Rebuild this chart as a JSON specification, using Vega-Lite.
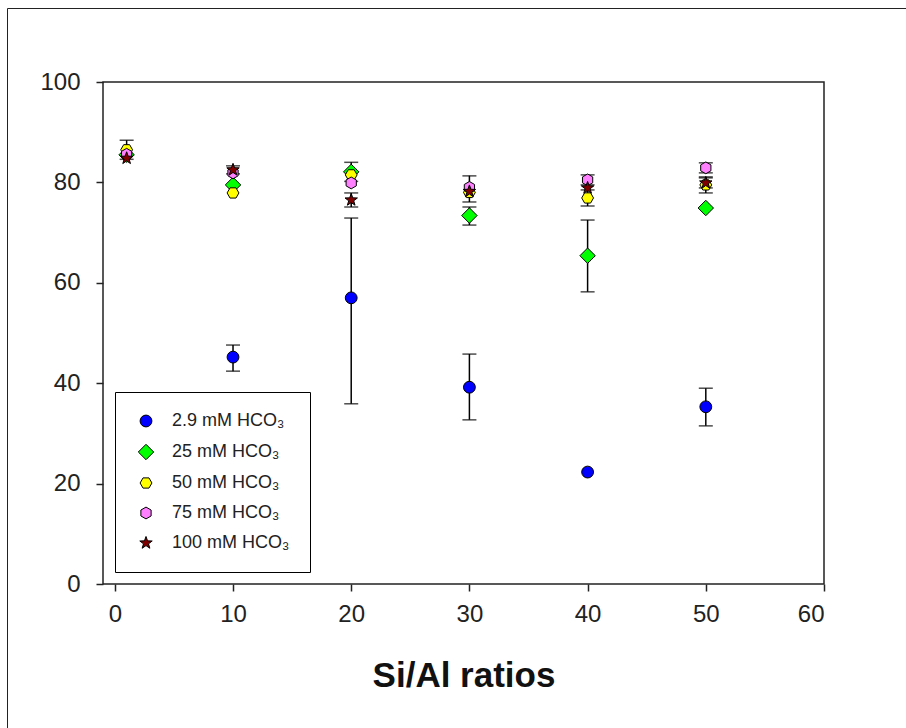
{
  "$schema": "https://vega.github.io/schema/vega-lite/v6.json",
  "autosize": "none",
  "width": 721,
  "height": 502,
  "padding": {"left": 103, "top": 82, "right": 82, "bottom": 144},
  "background": "white",
  "data": {
    "values": [
      {"ratio": 10, "series": "2.9 mM HCO₃", "value": 45.2, "lo": 42.4, "hi": 47.6},
      {"ratio": 20, "series": "2.9 mM HCO₃", "value": 57.0, "lo": 35.9, "hi": 72.9},
      {"ratio": 30, "series": "2.9 mM HCO₃", "value": 39.2, "lo": 32.7, "hi": 45.8},
      {"ratio": 40, "series": "2.9 mM HCO₃", "value": 22.3, "lo": null, "hi": null},
      {"ratio": 50, "series": "2.9 mM HCO₃", "value": 35.3, "lo": 31.5, "hi": 39.0},
      {"ratio": 1, "series": "25 mM HCO₃", "value": 85.5, "lo": null, "hi": null},
      {"ratio": 10, "series": "25 mM HCO₃", "value": 79.5, "lo": null, "hi": null},
      {"ratio": 20, "series": "25 mM HCO₃", "value": 82.1, "lo": 80.2, "hi": 84.0},
      {"ratio": 30, "series": "25 mM HCO₃", "value": 73.4, "lo": 71.5, "hi": 75.1},
      {"ratio": 40, "series": "25 mM HCO₃", "value": 65.4, "lo": 58.2, "hi": 72.5},
      {"ratio": 50, "series": "25 mM HCO₃", "value": 74.9, "lo": null, "hi": null},
      {"ratio": 1, "series": "50 mM HCO₃", "value": 86.5, "lo": 84.6, "hi": 88.4},
      {"ratio": 10, "series": "50 mM HCO₃", "value": 77.9, "lo": null, "hi": null},
      {"ratio": 20, "series": "50 mM HCO₃", "value": 81.5, "lo": null, "hi": null},
      {"ratio": 30, "series": "50 mM HCO₃", "value": 78.0, "lo": null, "hi": null},
      {"ratio": 40, "series": "50 mM HCO₃", "value": 76.9, "lo": 75.3, "hi": 78.5},
      {"ratio": 50, "series": "50 mM HCO₃", "value": 79.5, "lo": 77.9, "hi": 81.1},
      {"ratio": 1, "series": "75 mM HCO₃", "value": 85.6, "lo": null, "hi": null},
      {"ratio": 10, "series": "75 mM HCO₃", "value": 81.9, "lo": null, "hi": null},
      {"ratio": 20, "series": "75 mM HCO₃", "value": 79.9, "lo": null, "hi": null},
      {"ratio": 30, "series": "75 mM HCO₃", "value": 79.0, "lo": null, "hi": null},
      {"ratio": 40, "series": "75 mM HCO₃", "value": 80.5, "lo": 79.5, "hi": 81.5},
      {"ratio": 50, "series": "75 mM HCO₃", "value": 82.9, "lo": 81.9, "hi": 83.9},
      {"ratio": 1, "series": "100 mM HCO₃", "value": 84.8, "lo": null, "hi": null},
      {"ratio": 10, "series": "100 mM HCO₃", "value": 82.5, "lo": 81.7, "hi": 83.3},
      {"ratio": 20, "series": "100 mM HCO₃", "value": 76.5, "lo": 75.1, "hi": 77.9},
      {"ratio": 30, "series": "100 mM HCO₃", "value": 78.2, "lo": 76.1, "hi": 81.3},
      {"ratio": 40, "series": "100 mM HCO₃", "value": 78.9, "lo": null, "hi": null},
      {"ratio": 50, "series": "100 mM HCO₃", "value": 79.9, "lo": 78.9, "hi": 80.9}
    ]
  },
  "layer": [
    {
      "transform": [{"filter": "datum.lo != null"}],
      "mark": {"type": "rule", "color": "black", "strokeWidth": 1.5},
      "encoding": {
        "x": {"field": "ratio", "type": "quantitative"},
        "y": {"field": "lo", "type": "quantitative"},
        "y2": {"field": "hi"},
        "strokeDash": {
          "datum": "frame",
          "scale": {"range": [[1, 0]]},
          "legend": {
            "title": null,
            "orient": "none",
            "legendX": -96,
            "legendY": -74,
            "padding": 470,
            "strokeColor": "#222",
            "fillColor": null,
            "labelOpacity": 0,
            "labelFontSize": 1,
            "symbolOpacity": 0,
            "symbolSize": 1,
            "symbolStrokeWidth": 0
          }
        }
      }
    },
    {
      "transform": [{"filter": "datum.lo != null"}],
      "mark": {"type": "tick", "orient": "horizontal", "color": "black", "thickness": 1.5, "size": 14},
      "encoding": {
        "x": {"field": "ratio", "type": "quantitative"},
        "y": {"field": "lo", "type": "quantitative"}
      }
    },
    {
      "transform": [{"filter": "datum.hi != null"}],
      "mark": {"type": "tick", "orient": "horizontal", "color": "black", "thickness": 1.5, "size": 14},
      "encoding": {
        "x": {"field": "ratio", "type": "quantitative"},
        "y": {"field": "hi", "type": "quantitative"}
      }
    },
    {
      "mark": {"type": "point", "filled": true, "stroke": "black", "strokeWidth": 1, "size": 140, "opacity": 1},
      "encoding": {
        "x": {
          "field": "ratio", "type": "quantitative",
          "scale": {"domain": [-1, 60], "nice": false, "zero": false},
          "axis": {"values": [0, 10, 20, 30, 40, 50, 60], "title": "Si/Al ratios"}
        },
        "y": {
          "field": "value", "type": "quantitative",
          "scale": {"domain": [0, 100], "nice": false},
          "axis": {"values": [0, 20, 40, 60, 80, 100], "title": null}
        },
        "color": {
          "field": "series", "type": "nominal",
          "scale": {
            "domain": ["2.9 mM HCO₃", "25 mM HCO₃", "50 mM HCO₃", "75 mM HCO₃", "100 mM HCO₃"],
            "range": ["#0000FF", "#00FF00", "#FFFF00", "#FF80FF", "#800000"]
          },
          "legend": {
            "title": null,
            "orient": "none",
            "legendX": 12,
            "legendY": 310,
            "padding": 20,
            "rowPadding": 12,
            "strokeColor": "black",
            "fillColor": "white",
            "labelFontSize": 18,
            "labelFont": "Liberation Sans",
            "labelColor": "#222",
            "labelOffset": 17,
            "symbolOffset": 2,
            "symbolSize": 140,
            "symbolStrokeColor": "black",
            "symbolStrokeWidth": 1,
            "symbolOpacity": 1
          }
        },
        "shape": {
          "field": "series", "type": "nominal",
          "scale": {
            "domain": ["2.9 mM HCO₃", "25 mM HCO₃", "50 mM HCO₃", "75 mM HCO₃", "100 mM HCO₃"],
            "range": ["circle", "M0,-1.3L1.3,0L0,1.3L-1.3,0Z", "M-1,0L-0.5,-0.866L0.5,-0.866L1,0L0.5,0.866L-0.5,0.866Z", "M0,-1L0.866,-0.5L0.866,0.5L0,1L-0.866,0.5L-0.866,-0.5Z", "M0,-1.1L0.26,-0.36L1.05,-0.34L0.42,0.14L0.65,0.89L0,0.44L-0.65,0.89L-0.42,0.14L-1.05,-0.34L-0.26,-0.36Z"]
          },
          "legend": null
        }
      }
    }
  ],
  "config": {
    "font": "Liberation Sans",
    "view": {"stroke": "#222", "strokeWidth": 1.5},
    "axis": {
      "grid": false,
      "domain": false,
      "tickColor": "#222",
      "tickSize": 7,
      "tickWidth": 1.5,
      "labelFont": "Liberation Sans",
      "labelFontSize": 24,
      "labelColor": "#222"
    },
    "axisX": {
      "labelPadding": 11,
      "titleFont": "Liberation Sans",
      "titleFontSize": 35,
      "titleFontWeight": "bold",
      "titleColor": "#111",
      "titlePadding": 32
    },
    "axisY": {"labelPadding": 16}
  }
}
